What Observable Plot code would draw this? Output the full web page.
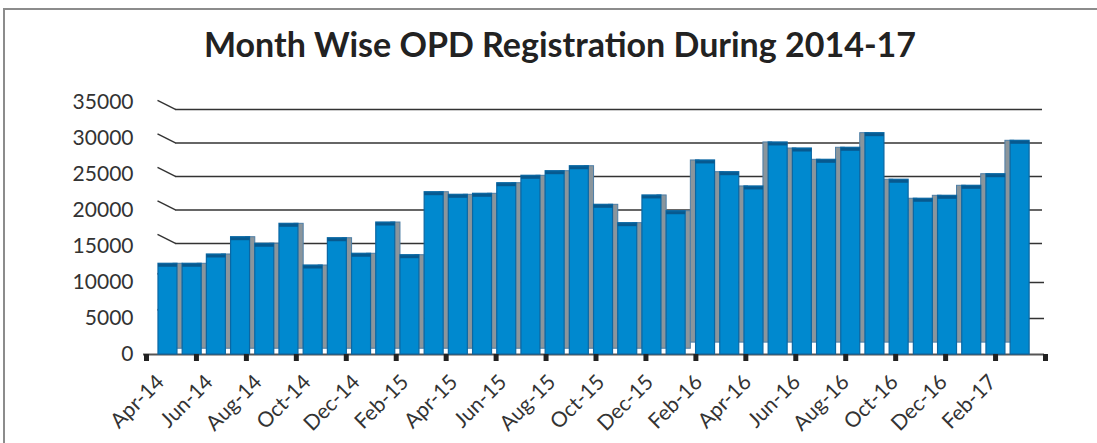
<!DOCTYPE html>
<html>
<head>
<meta charset="utf-8">
<script src="https://cdn.jsdelivr.net/npm/d3@7"></script>
<script src="https://cdn.jsdelivr.net/npm/@observablehq/plot@0.6"></script>
<style>
  html, body { margin: 0; padding: 0; background: #fff; }
  body { position: relative; width: 1097px; height: 443px; overflow: hidden; font-family: Lato, sans-serif; }
  #frame { position: absolute; left: 3px; top: 8px; width: 1200px; height: 600px; border-left: 2px solid #8c8c8c; border-top: 2px solid #8c8c8c; }
  #title { position: absolute; left: 3px; top: 22px; width: 1114px; text-align: center; font-family: Lato, sans-serif; font-weight: bold; font-size: 34px; line-height: 44px; color: #222; }
  #chart { position: absolute; left: 0; top: 0; }
</style>
</head>
<body>
<div id="frame"></div>
<div id="title">Month Wise OPD Registration During 2014-17</div>
<div id="chart"></div>
<script>
// ---- data ----
const months = [
  "Apr-14","May-14","Jun-14","Jul-14","Aug-14","Sep-14","Oct-14","Nov-14","Dec-14","Jan-15","Feb-15","Mar-15",
  "Apr-15","May-15","Jun-15","Jul-15","Aug-15","Sep-15","Oct-15","Nov-15","Dec-15","Jan-16","Feb-16","Mar-16",
  "Apr-16","May-16","Jun-16","Jul-16","Aug-16","Sep-16","Oct-16","Nov-16","Dec-16","Jan-17","Feb-17","Mar-17"
];
const registrations = [
  12600, 12600, 13890, 16290, 15380, 18150, 12360, 16150, 13990, 18330, 13790, 22540,
  22180, 22320, 23790, 24820, 25460, 26150, 20790, 18240, 22090, 19900, 26950, 25320,
  23340, 29450, 28610, 27040, 28710, 30740, 24270, 21630, 22040, 23430, 25040, 29680
];
const yTickValues = [0, 5000, 10000, 15000, 20000, 25000, 30000, 35000];
const gridValues = [5000, 10000, 15000, 20000, 25000, 30000, 35000];

// ---- derived table ----
const data = months.map((m, i) => ({month: m, i, value: registrations[i]}));

// 3D-ish layout helpers (in x-scale units: one unit = one month slot)
const flip = 22;                         // side face switches from right to left
const start = i => 0.48 + 0.969 * i;     // slot start
const frontX1 = d => d.i < flip ? start(d.i) : start(d.i) + 0.209;
const frontX2 = d => d.i < flip ? start(d.i) + 0.76 : start(d.i) + 0.969;
const sideX1 = d => d.i < flip ? start(d.i) + 0.6 : start(d.i);
const sideX2 = d => d.i < flip ? start(d.i) + 0.969 : start(d.i) + 0.35;
const sideBase = d => d.i < flip ? 800 : 1650;
const back = v => v >= 15000 ? 1458 + 0.9306 * v : v;   // back-wall gridline level

const blue = "#0089cf", blueEdge = "#0b67a3", blueTop = "#07598f";
const grey = "#8a959c", greyEdge = "#4d7ea6";

const chart = Plot.plot({
  width: 1097,
  height: 443,
  marginLeft: 146,
  marginRight: 52,
  marginTop: 102,
  marginBottom: 89,
  style: {fontFamily: "Lato, sans-serif", color: "#333", background: "transparent"},
  x: {type: "linear", domain: [0, 36], label: null},
  y: {domain: [0, 35000], label: null},
  marks: [
    // back-wall gridlines with the slanted side-wall piece
    Plot.link(gridValues, {x1: 0.44, x2: 1.16, y1: v => back(v) + 1250, y2: v => back(v), stroke: "#333", strokeWidth: 1.4}),
    Plot.ruleY(gridValues, {y: v => back(v), x1: 1.16, x2: v => v >= 15000 ? 35.88 : 35.96, stroke: "#333", strokeWidth: 1.4}),
    // floor / axis line
    Plot.ruleY([0], {x1: -0.12, x2: 35.96, stroke: "#555", strokeWidth: 2}),
    // side faces
    Plot.rect(data, {x1: sideX1, x2: sideX2, y1: sideBase, y2: "value", fill: grey, stroke: greyEdge, strokeWidth: 1}),
    // front faces
    Plot.rect(data, {x1: frontX1, x2: frontX2, y1: 0, y2: "value", fill: blue, stroke: blueEdge, strokeWidth: 1.2}),
    // darker top strip
    Plot.ruleY(data, {y: "value", x1: frontX1, x2: frontX2, stroke: blueTop, strokeWidth: 3, dy: 1.5}),
    // tick marks
    Plot.axisX(d3.range(0, 37, 2), {tickSize: 7, strokeWidth: 5, stroke: "#222", tickFormat: () => ""}),
    // month labels
    Plot.text(data.filter(d => d.i % 2 === 0), {x: d => 0.56 + 0.98 * d.i, y: 0, text: "month", rotate: -45, textAnchor: "end", dy: 24, fontSize: 21, fill: "#333"}),
    // y axis labels
    Plot.axisY(yTickValues, {tickSize: 0, tickPadding: 13, fontSize: 21, tickFormat: d => String(d), fill: "#333"})
  ]
});
document.getElementById("chart").appendChild(chart);
</script>
</body>
</html>
